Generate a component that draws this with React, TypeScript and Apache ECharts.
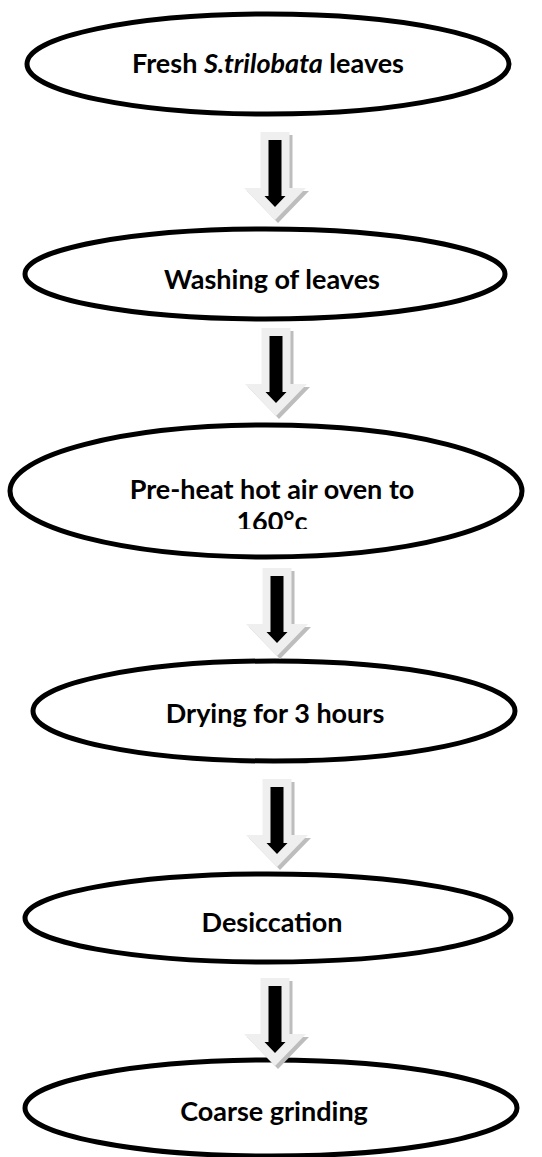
import React, { useEffect, useRef } from "react";
import * as echarts from "echarts";

// ---- content ----
const stepLabels: string[] = [
  "Fresh S.trilobata leaves",
  "Washing of leaves",
  "Pre-heat hot air oven to\n160°c",
  "Drying for 3 hours",
  "Desiccation",
  "Coarse grinding",
];
const italicTerms: string[] = ["S.trilobata"];

// ---- layout (positions / sizes) ----
const ellipseCx = [268, 265, 266, 274, 268, 271];
const ellipseCy = [64, 274, 491, 711, 918, 1108];
const ellipseRx = [241, 240, 256, 241, 243, 246];
const ellipseRy = [50, 45, 66, 50, 44, 48];
const textCx = [268, 272, 272, 275, 272, 274];
const textCy = [62, 278, 504, 712, 921, 1110];
const arrowCx = [275, 276, 277, 277, 275];
const arrowTop = [132, 328, 568, 779, 978];

const FONT = "Lato, 'Open Sans', 'Noto Sans', sans-serif";
const FONT_SIZE = 27;
const LINE_H = 32;

function richText(label: string): string {
  return label
    .split("\n")
    .map((line) => {
      let parts: string[] = [line];
      let out = "";
      const term = italicTerms.find((t) => line.includes(t));
      if (!term) return `{n|${line}}`;
      parts = line.split(term);
      out = parts.map((p) => (p ? `{n|${p}}` : "")).join(`{i|${term}}`);
      return out;
    })
    .join("\n");
}

function arrowPoints(cx: number, y0: number, shaftHalf: number, headHalf: number, top: number, headBase: number, tip: number): number[][] {
  return [
    [cx - shaftHalf, y0 + top],
    [cx + shaftHalf, y0 + top],
    [cx + shaftHalf, y0 + headBase],
    [cx + headHalf, y0 + headBase],
    [cx, y0 + tip],
    [cx - headHalf, y0 + headBase],
    [cx - shaftHalf, y0 + headBase],
  ];
}

export default function App() {
  const ref = useRef<HTMLDivElement>(null);
  useEffect(() => {
    document.body.style.margin = "0";
    if (!ref.current) return;
    const chart = echarts.init(ref.current, null, { renderer: "svg" });

    const elements: any[] = [];

    stepLabels.forEach((label, i) => {
      elements.push({
        type: "ellipse",
        shape: { cx: ellipseCx[i], cy: ellipseCy[i], rx: ellipseRx[i], ry: ellipseRy[i] },
        style: { fill: "#ffffff", stroke: "#000000", lineWidth: 5 },
        z: 1,
      });
      elements.push({
        type: "text",
        x: textCx[i],
        y: textCy[i],
        z: 3,
        style: {
          text: richText(label),
          align: "center",
          verticalAlign: "middle",
          fill: "#000000",
          lineHeight: LINE_H,
          rich: {
            n: { fontFamily: FONT, fontWeight: "bold", fontSize: FONT_SIZE, lineHeight: LINE_H, fill: "#000" },
            i: { fontFamily: FONT, fontWeight: "bold", fontStyle: "italic", fontSize: FONT_SIZE, lineHeight: LINE_H, fill: "#000" },
          },
        },
      });
    });

    // clipped text box of step 3 (text cut off at bottom in the original)
    elements.push({
      type: "rect",
      shape: { x: 200, y: 529, width: 150, height: 14 },
      style: { fill: "#ffffff" },
      z: 4,
    });

    arrowTop.forEach((y0, i) => {
      const cx = arrowCx[i];
      elements.push({
        type: "polygon",
        shape: { points: arrowPoints(cx + 3, y0 + 3, 14.5, 31, 0, 56, 88) },
        style: { fill: "#bdbdbd" },
        z: 5,
      });
      elements.push({
        type: "polygon",
        shape: { points: arrowPoints(cx, y0, 14.5, 31, 0, 56, 88) },
        style: { fill: "#efefef" },
        z: 6,
      });
      elements.push({
        type: "polygon",
        shape: { points: arrowPoints(cx, y0, 6.5, 10.5, 8, 64, 75) },
        style: { fill: "#000000" },
        z: 7,
      });
    });

    chart.setOption({
      animation: false,
      backgroundColor: "#ffffff",
      graphic: { elements },
    });
    return () => chart.dispose();
  }, []);
  return <div ref={ref} style={{ width: 542, height: 1157 }} />;
}
